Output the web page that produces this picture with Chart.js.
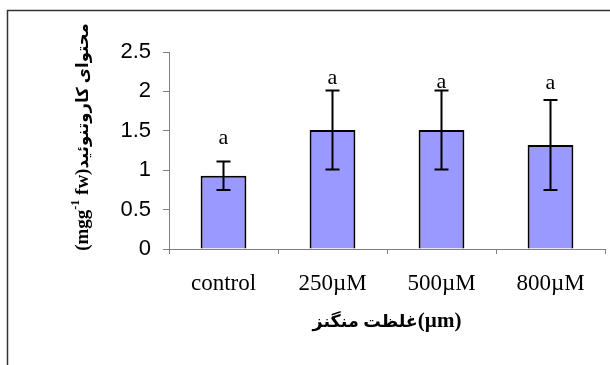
<!DOCTYPE html>
<html>
<head>
<meta charset="utf-8">
<script src="https://cdn.jsdelivr.net/npm/chart.js@4"></script>
<style>
  html, body { margin: 0; padding: 0; background: #fff; }
</style>
</head>
<body>
<canvas id="myBarChart" width="610" height="365"></canvas>
<script>
// data
const categories = ['control', '250µM', '500µM', '800µM'];
const means = [0.93, 1.51, 1.51, 1.32];
const errors = [0.18, 0.5, 0.5, 0.57];
const letters = ['a', 'a', 'a', 'a'];
const letterAt = [1.41, 2.17, 2.12, 2.11]; // where the letters sit, in axis units
const yTicks = [0, 0.5, 1, 1.5, 2, 2.5];
const xTitleArabic = 'غلظت منگنز';
const xTitleUnit = '(µm)';
const yTitleArabic = 'محتوای کاروتنوئید';

const serif = '"Liberation Serif", "DejaVu Sans"';

// draws text pieces one after another, left to right
function drawPieces(ctx, pieces, x0, y0, centered) {
    let total = 0;
    pieces.forEach(p => { ctx.font = p.f; p.w = ctx.measureText(p.t).width; total += p.w; });
    let x = centered ? x0 - total / 2 : x0;
    ctx.textAlign = 'left';
    ctx.textBaseline = 'alphabetic';
    pieces.forEach(p => {
        ctx.font = p.f;
        ctx.fillText(p.t, x, y0 + (p.dy || 0));
        x += p.w;
    });
}

// error bars, letters, axis titles and the outer frame
const extras = {
    id: 'extras',
    afterDatasetsDraw(chart) {
        const ctx = chart.ctx;
        const y = chart.scales.y;
        const bars = chart.getDatasetMeta(0).data;
        ctx.save();
        ctx.strokeStyle = '#000';
        ctx.lineWidth = 2;
        bars.forEach((bar, i) => {
            const top = y.getPixelForValue(means[i] + errors[i]);
            const bot = y.getPixelForValue(means[i] - errors[i]);
            ctx.beginPath();
            ctx.moveTo(bar.x, top);
            ctx.lineTo(bar.x, bot);
            ctx.moveTo(bar.x - 7, top);
            ctx.lineTo(bar.x + 7, top);
            ctx.moveTo(bar.x - 7, bot);
            ctx.lineTo(bar.x + 7, bot);
            ctx.stroke();
        });
        ctx.fillStyle = '#000';
        ctx.font = '22px ' + serif;
        ctx.textAlign = 'center';
        ctx.textBaseline = 'middle';
        bars.forEach((bar, i) => {
            ctx.fillText(letters[i], bar.x, y.getPixelForValue(letterAt[i]));
        });
        ctx.restore();
    },
    afterDraw(chart) {
        const ctx = chart.ctx;
        const area = chart.chartArea;
        ctx.save();
        ctx.fillStyle = '#000';

        // x title
        drawPieces(ctx, [
            { t: xTitleArabic, f: 'bold 17.5px ' + serif },
            { t: xTitleUnit, f: 'bold 21px ' + serif }
        ], (area.left + area.right) / 2, 327, true);

        // y title, rotated, with a superscript
        ctx.translate(88, 137);
        ctx.rotate(-Math.PI / 2);
        drawPieces(ctx, [
            { t: '(mgg', f: 'bold 19px ' + serif },
            { t: '-1', f: 'bold 12px ' + serif, dy: -9 },
            { t: ' fw)', f: 'bold 19px ' + serif },
            { t: yTitleArabic, f: 'bold 16.5px ' + serif }
        ], 0, 0, true);
        ctx.restore();

        // outer frame (cut off at right and bottom)
        ctx.save();
        ctx.strokeStyle = '#333';
        ctx.lineWidth = 1.5;
        ctx.beginPath();
        ctx.moveTo(7.5, 365);
        ctx.lineTo(7.5, 10.5);
        ctx.lineTo(610, 10.5);
        ctx.stroke();
        ctx.restore();
    }
};

const ctx = document.getElementById('myBarChart');
const myBarChart = new Chart(ctx, {
    type: 'bar',
    data: {
        labels: categories,
        datasets: [{
            data: means,
            backgroundColor: '#9999FF',
            borderColor: '#000',
            borderWidth: 2,
            categoryPercentage: 1,
            barPercentage: 0.42
        }]
    },
    options: {
        responsive: false,
        devicePixelRatio: 1,
        animation: false,
        layout: { padding: { left: 0, top: 52, right: 5, bottom: 0 } },
        plugins: { legend: { display: false }, tooltip: { enabled: false } },
        scales: {
            x: {
                grid: { offset: true, drawOnChartArea: false, tickLength: 5, color: '#808080' },
                border: { color: '#808080', width: 1 },
                ticks: { color: '#000', font: { family: serif, size: 23 }, padding: 16, maxRotation: 0 },
                afterFit(scale) { scale.height = 116; }
            },
            y: {
                min: 0,
                max: 2.5,
                afterBuildTicks(scale) { scale.ticks = yTicks.map(v => ({ value: v })); },
                grid: { drawOnChartArea: false, tickLength: 6, color: '#808080' },
                border: { color: '#808080', width: 1 },
                ticks: {
                    color: '#000',
                    font: { family: '"Liberation Sans", Arial', size: 22 },
                    padding: 12,
                    callback: v => String(v)
                },
                afterFit(scale) { scale.width = 169; }
            }
        }
    },
    plugins: [extras]
});
</script>
</body>
</html>
